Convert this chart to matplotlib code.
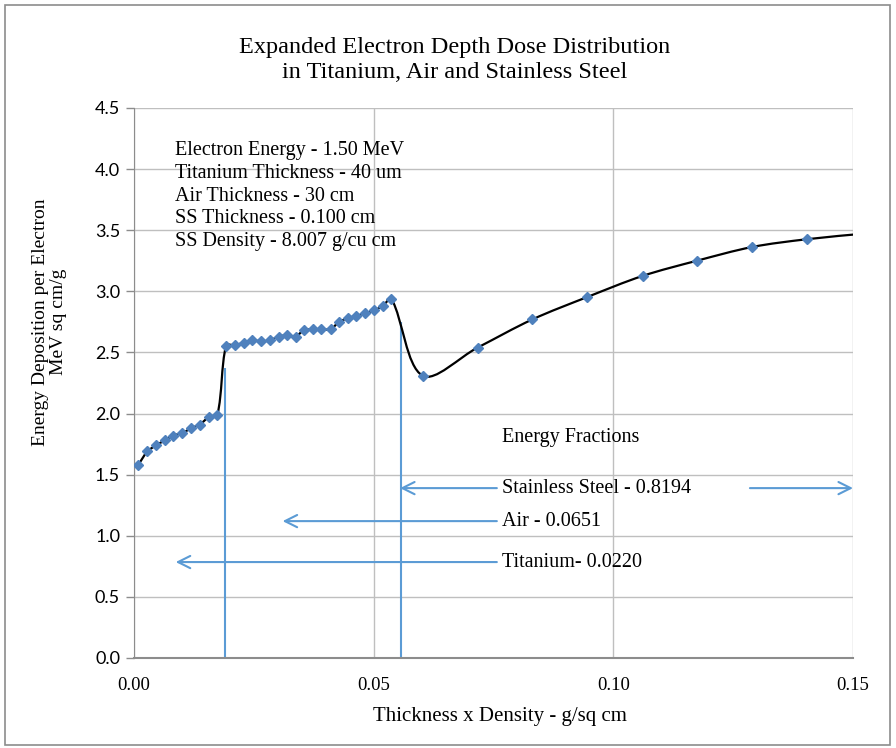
import numpy as np
import matplotlib
matplotlib.use("Agg")
import matplotlib.pyplot as plt
from matplotlib.path import Path
from matplotlib.patches import PathPatch, Rectangle

# ---- data ----
thickness = [0.0009, 0.0028, 0.0046, 0.0064, 0.0082, 0.0101, 0.0119, 0.0137,
             0.0156, 0.0174, 0.0192, 0.0210, 0.0229, 0.0247, 0.0265, 0.0284,
             0.0302, 0.0320, 0.0337, 0.0354, 0.0373, 0.0391, 0.0410, 0.0428,
             0.0446, 0.0464, 0.0482, 0.0501, 0.0519, 0.0537, 0.0602, 0.0717,
             0.0831, 0.0946, 0.1061, 0.1174, 0.1290, 0.1403, 0.1517]
dose = [1.58, 1.69, 1.74, 1.78, 1.82, 1.84, 1.88, 1.91, 1.97, 1.99,
        2.556, 2.56, 2.58, 2.60, 2.59, 2.60, 2.63, 2.64, 2.63, 2.68,
        2.69, 2.69, 2.69, 2.75, 2.78, 2.80, 2.82, 2.845, 2.88, 2.94,
        2.31, 2.54, 2.77, 2.954, 3.126, 3.25, 3.363, 3.426, 3.47]

boundary_x = [0.0189, 0.0556]
boundary_top = [2.37, 2.75]

fraction_labels = ["Stainless Steel - 0.8194", "Air - 0.0651", "Titanium- 0.0220"]
fraction_y = [1.39, 1.12, 0.785]
fraction_arrow_end = [0.0555, 0.031, 0.0087]

info_lines = ["Electron Energy - 1.50 MeV", "Titanium Thickness - 40 um",
              "Air Thickness - 30 cm", "SS Thickness - 0.100 cm",
              "SS Density - 8.007 g/cu cm"]

x_ticks = [0.00, 0.05, 0.10, 0.15]
x_tick_labels = ["0.00", "0.05", "0.10", "0.15"]
y_ticks = [0.0, 0.5, 1.0, 1.5, 2.0, 2.5, 3.0, 3.5, 4.0, 4.5]

SERIF = "Liberation Serif"
SANS = "Lato"
BLUE = "#4F81BD"
LBLUE = "#5B9BD5"
GRID = "#BFBFBF"

fig = plt.figure(figsize=(8.96, 7.48), dpi=100)
fig.patches.append(Rectangle((5/896, 3/748), 885/896, 740/748, transform=fig.transFigure,
                             fill=False, edgecolor="#8C8C8C", linewidth=1.2))
ax = fig.add_axes([134/896, 1 - 658/748, (853-134)/896, (658-108)/748])

ax.set_xlim(0, 0.15)
ax.set_ylim(0, 4.5)
ax.set_xticks(x_ticks)
ax.set_xticklabels(x_tick_labels, fontfamily=SERIF, fontsize=13.5)
ax.set_yticks(y_ticks)
ax.set_yticklabels([f"{v:.1f}" for v in y_ticks], fontfamily=SANS, fontsize=13)
ax.tick_params(axis="x", length=0, pad=14)
ax.tick_params(axis="y", length=6, color="#8C8C8C", width=1, pad=4)
ax.grid(True, color=GRID, linewidth=1.0)
ax.set_axisbelow(True)
for s in ["top", "right"]:
    ax.spines[s].set_visible(False)
ax.spines["left"].set_color("#8C8C8C")
ax.spines["bottom"].set_color("#8C8C8C")
ax.spines["bottom"].set_linewidth(1.5)

# smoothed line (length-weighted Bezier, like a spreadsheet "smoothed line")
def smooth_path(xs, ys, transform):
    pts = transform.transform(np.column_stack([xs, ys]))
    verts = [pts[0]]
    codes = [Path.MOVETO]
    n = len(pts)
    L = np.linalg.norm(np.diff(pts, axis=0), axis=1)
    for i in range(n - 1):
        p0 = pts[i - 1] if i > 0 else pts[i]
        p1 = pts[i]
        p2 = pts[i + 1]
        p3 = pts[i + 2] if i + 2 < n else pts[i + 1]
        l01 = L[i - 1] if i > 0 else L[i]
        l12 = L[i]
        l23 = L[i + 1] if i + 1 < n - 1 else L[i]
        c1 = p1 + (p2 - p0) * (l12 / (l01 + l12)) / 3.0
        c2 = p2 - (p3 - p1) * (l12 / (l12 + l23)) / 3.0
        verts += [c1, c2, p2]
        codes += [Path.CURVE4] * 3
    inv = transform.inverted()
    return Path(inv.transform(np.array(verts)), codes)

path = smooth_path(thickness, dose, ax.transData)
ax.add_patch(PathPatch(path, facecolor="none", edgecolor="black", linewidth=1.6, zorder=3))
ax.plot(thickness, dose, linestyle="none", marker="D", markersize=5.5,
        color=BLUE, zorder=4)

# boundaries
ax.vlines(boundary_x, 0, boundary_top, color=LBLUE, linewidth=1.5, zorder=2)

# info text
ax.text(0.0085, 4.23, "\n".join(info_lines), fontfamily=SERIF, fontsize=14.5,
        va="top", ha="left", linespacing=1.27)

# energy fractions
ax.text(0.0768, 1.80, "Energy Fractions", fontfamily=SERIF, fontsize=14.5,
        va="center", ha="left")
for lab, yy, xe in zip(fraction_labels, fraction_y, fraction_arrow_end):
    ax.text(0.0768, yy, lab, fontfamily=SERIF, fontsize=14.5, va="center", ha="left")
    ax.annotate("", xy=(xe, yy), xytext=(0.0757, yy),
                arrowprops=dict(arrowstyle="->", color=LBLUE, lw=1.5,
                                mutation_scale=22, shrinkA=0, shrinkB=0))
ax.annotate("", xy=(0.150, fraction_y[0]), xytext=(0.1285, fraction_y[0]),
            arrowprops=dict(arrowstyle="->", color=LBLUE, lw=1.5,
                            mutation_scale=22, shrinkA=0, shrinkB=0),
            annotation_clip=False)

fig.text(455/896, 1 - 60/748, "Expanded Electron Depth Dose Distribution\nin Titanium, Air and Stainless Steel",
         fontfamily=SERIF, fontsize=17.5, ha="center", va="center", linespacing=1.25)
ax.set_xlabel("Thickness x Density - g/sq cm", fontfamily=SERIF, fontsize=15)
ax.xaxis.set_label_coords((500 - 134) / 719, -(707 - 658) / 550)
ax.set_ylabel("Energy Deposition per Electron\nMeV sq cm/g", fontfamily=SERIF, fontsize=14,
              linespacing=1.1)
ax.yaxis.set_label_coords((67 - 134) / 719, (658 - 322) / 550)

fig.savefig("out.png", dpi=100)
